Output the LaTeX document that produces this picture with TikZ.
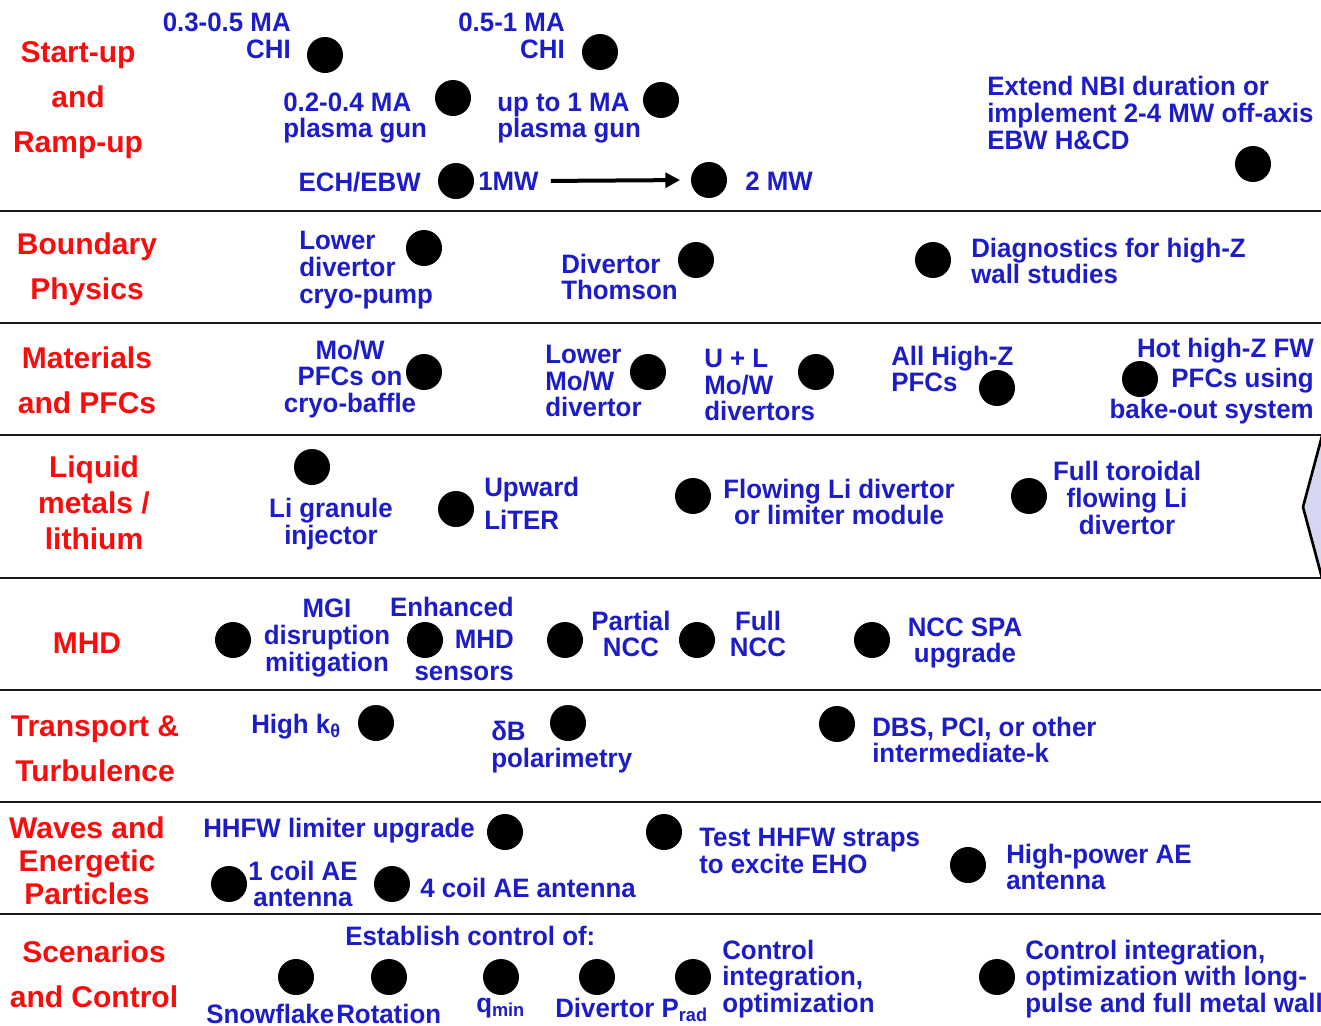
\documentclass[tikz,border=0pt]{standalone}
\usepackage{fontspec}
\setmainfont{Liberation Sans}
\newfontfamily\itemfont[FakeStretch=0.97]{Liberation Sans}
\usepackage{tikz}
\usetikzlibrary{arrows.meta}
\definecolor{catred}{RGB}{250,12,12}
\definecolor{itemblue}{RGB}{28,28,200}
\definecolor{notchfill}{RGB}{213,215,242}

\begin{document}
\begin{tikzpicture}[x=0.75pt, y=-0.75pt, dot/.style={circle, fill=black, inner sep=0pt, minimum size=27pt}, cat/.style={text=catred, font=\fontsize{22.5}{33.75}\selectfont\bfseries, align=center, inner sep=0pt}, item/.style={text=itemblue, font=\itemfont\fontsize{20}{20}\selectfont\bfseries, inner sep=0pt}, rowline/.style={line width=2pt, black!90}]
  \useasboundingbox (0,0) rectangle (1321,1025);

  % row separators
  \draw[rowline] (0,211) -- (1321,211);
  \draw[rowline] (0,323) -- (1321,323);
  \draw[rowline] (0,435) -- (1321,435);
  \draw[rowline] (0,578) -- (1321,578);
  \draw[rowline] (0,690) -- (1321,690);
  \draw[rowline] (0,802) -- (1321,802);
  \draw[rowline] (0,914) -- (1321,914);
  \filldraw[fill=notchfill, line width=2pt, line join=miter] (1322,436) -- (1303,507) -- (1322,578) -- (1330,578) -- (1330,436) -- cycle;

  % categories
  \node[cat] (startup) at (78,100) {Start-up\\and\\Ramp-up};
  \node[cat] (bound) at (87,269) {Boundary\\Physics};
  \node[cat] (mater) at (87,380) {Materials\\and PFCs};
  \node[cat, font=\fontsize{22.5}{27}\selectfont\bfseries] (liquid) at (94,503) {Liquid\\metals /\\lithium};
  \node[cat] (mhd) at (87,643) {MHD};
  \node[cat] (transp) at (95,749) {Transport \&\\Turbulence};
  \node[cat, font=\fontsize{22.5}{24.75}\selectfont\bfseries] (waves) at (87,861) {Waves and\\Energetic\\Particles};
  \node[cat] (scen) at (94,974) {Scenarios\\and Control};

  % start-up and ramp-up
  \node[item, anchor=east, align=right] (chiA) at (291,36) {0.3-0.5 MA\\CHI};
  \node[dot] (dChiA) at (325,55) {};
  \node[item, anchor=east, align=right] (chiB) at (565,36) {0.5-1 MA\\CHI};
  \node[dot] (dChiB) at (600,52) {};
  \node[item, anchor=west, align=left] (gunA) at (283,118) {0.2-0.4 MA\\plasma gun};
  \node[dot] (dGunA) at (453,98) {};
  \node[item, anchor=west, align=left] (gunB) at (497,118) {up to 1 MA\\plasma gun};
  \node[dot] (dGunB) at (661,100) {};
  \node[item, anchor=east] (ech) at (421,182) {ECH/EBW};
  \node[dot] (dEch) at (456,181) {};
  \node[item, anchor=west] (mwA) at (478,181) {1MW};
  \node[dot] (dMw) at (709,180) {};
  \node[item, anchor=west] (mwB) at (745,181) {2 MW};
  \draw[-{Triangle[length=11pt,width=11pt]}, line width=3pt, shorten <=9pt, shorten >=8pt] (mwA.east) -- (dMw.west);
  \node[item, anchor=west, align=left] (nbi) at (987,113) {Extend NBI duration or\\implement 2-4 MW off-axis\\EBW H\&CD};
  \node[dot] (dNbi) at (1253,164) {};

  % boundary physics
  \node[item, anchor=west, align=left] (cryo) at (299,270) {Lower\\divertor\\cryo-pump};
  \node[dot] (dCryo) at (424,248) {};
  \node[item, anchor=west, align=left] (thom) at (561,277) {Divertor\\Thomson};
  \node[dot] (dThom) at (696,260) {};
  \node[dot] (dDiag) at (933,260) {};
  \node[item, anchor=west, align=left] (diag) at (971,261) {Diagnostics for high-Z\\wall studies};

  % materials and PFCs
  \node[item, align=center] (baffle) at (350,379) {Mo/W\\PFCs on\\cryo-baffle};
  \node[dot] (dBaffle) at (424,372) {};
  \node[item, anchor=west, align=left] (lowMo) at (545,381) {Lower\\Mo/W\\divertor};
  \node[dot] (dLowMo) at (648,372) {};
  \node[item, anchor=west, align=left] (ulMo) at (704,385) {U + L\\Mo/W\\divertors};
  \node[dot] (dUlMo) at (816,372) {};
  \node[item, anchor=west, align=left] (allZ) at (891,369) {All High-Z\\PFCs};
  \node[dot] (dAllZ) at (997,388) {};
  \node[item, anchor=east, align=right] (hotZ) at (1314,381) {Hot high-Z FW\\[3pt]PFCs using\\[3pt]bake-out system};
  \node[dot] (dHotZ) at (1140,379) {};

  % liquid metals / lithium
  \node[dot] (dGran) at (312,467) {};
  \node[item, align=center] (gran) at (331,524) {Li granule\\injector};
  \node[dot] (dLiter) at (456,509) {};
  \node[item, anchor=west, align=left] (liter) at (484,503) {Upward\\[5pt]LiTER};
  \node[dot] (dFlow) at (693,496) {};
  \node[item, align=center] (flow) at (839,502) {Flowing Li divertor\\or limiter module};
  \node[dot] (dTor) at (1029,496) {};
  \node[item, align=center] (tor) at (1127,498) {Full toroidal\\flowing Li\\divertor};

  % MHD
  \node[dot] (dMgi) at (233,640) {};
  \node[item, align=center] (mgi) at (327,638) {MGI\\disruption\\mitigation};
  \node[dot] (dSens) at (425,640) {};
  \node[item, anchor=east, align=right] (sens) at (514,639) {Enhanced\\[4pt]MHD\\[4pt]sensors};
  \node[dot] (dPart) at (565,640) {};
  \node[item, align=center] (part) at (631,634) {Partial\\NCC};
  \node[dot] (dFull) at (697,640) {};
  \node[item, align=center] (full) at (758,634) {Full\\NCC};
  \node[dot] (dSpa) at (872,640) {};
  \node[item, align=center] (spa) at (965,643) {NCC SPA\\upgrade};

  % transport and turbulence
  \node[item, anchor=west] (kth) at (251,727) {High k\textsubscript{θ}};
  \node[dot] (dKth) at (376,723) {};
  \node[item, anchor=west, align=left] (pol) at (491,747) {δB\\polarimetry};
  \node[dot] (dPol) at (568,723) {};
  \node[dot] (dDbs) at (837,724) {};
  \node[item, anchor=west, align=left] (dbs) at (872,740) {DBS, PCI, or other\\intermediate-k};

  % waves and energetic particles
  \node[item, anchor=west] (lim) at (203,831) {HHFW limiter upgrade};
  \node[dot] (dLim) at (505,832) {};
  \node[dot] (dEho) at (664,832) {};
  \node[item, anchor=west, align=left] (eho) at (699,851) {Test HHFW straps\\to excite EHO};
  \node[dot] (dOne) at (229,884) {};
  \node[item, align=center] (one) at (303,884) {1 coil AE\\antenna};
  \node[dot] (dFour) at (392,884) {};
  \node[item, anchor=west] (four) at (420,888) {4 coil AE antenna};
  \node[dot] (dHp) at (968,865) {};
  \node[item, anchor=west, align=left] (hp) at (1006,867) {High-power AE\\antenna};

  % scenarios and control
  \node[item, anchor=west] (estab) at (345,936) {Establish control of:};
  \node[dot] (dSnow) at (296,977) {};
  \node[dot] (dRot) at (389,977) {};
  \node[dot] (dQmin) at (501,977) {};
  \node[dot] (dPrad) at (597,977) {};
  \node[dot] (dCtrl) at (693,977) {};
  \node[item, anchor=west] (snow) at (206,1014) {Snowflake};
  \node[item, anchor=west] (rot) at (336,1014) {Rotation};
  \node[item, anchor=west] (qmin) at (476,1008) {q\textsubscript{min}};
  \node[item, anchor=west] (prad) at (555,1010) {Divertor P\textsubscript{rad}};
  \node[item, anchor=west, align=left] (ctrl) at (722,979) {Control\\integration,\\optimization};
  \node[dot] (dLong) at (997,977) {};
  \node[item, anchor=west, align=left] (long) at (1025,979) {Control integration,\\optimization with long-\\pulse and full metal wall};
\end{tikzpicture}
\end{document}
